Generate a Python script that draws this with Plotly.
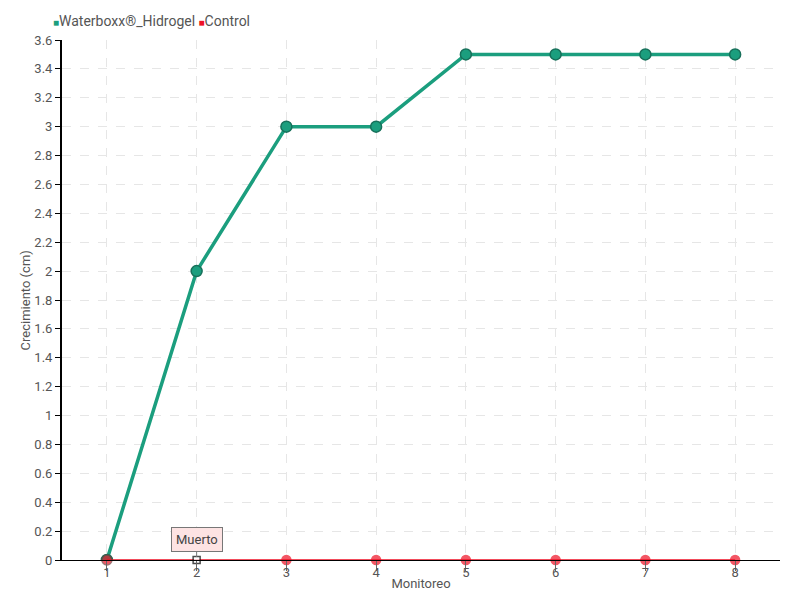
import plotly.graph_objects as go

monitoreo = [1, 2, 3, 4, 5, 6, 7, 8]
waterboxx = [0, 2, 3, 3, 3.5, 3.5, 3.5, 3.5]
control = [0, 0, 0, 0, 0, 0, 0, 0]
series_names = ["Waterboxx®_Hidrogel", "Control"]
y_ticks = [round(i * 0.2, 1) for i in range(19)]
y_labels = [("%g" % v) for v in y_ticks]
FONT = "Roboto, sans-serif"
GREEN = "#1b9e7e"
RED = "#ee1125"

fig = go.Figure()
fig.add_trace(go.Scatter(
    x=monitoreo, y=waterboxx, name=series_names[0], mode="lines+markers",
    line=dict(color=GREEN, width=3.5),
    marker=dict(size=11, color=GREEN, line=dict(color="#17705a", width=1.5)),
))
ctrl_sym = ["circle"] * len(monitoreo)
ctrl_col = [RED] * len(monitoreo)
ctrl_size = [9] * len(monitoreo)
ctrl_line = [RED] * len(monitoreo)
ctrl_sym[1] = "square"; ctrl_col[1] = "white"; ctrl_size[1] = 7; ctrl_line[1] = "black"
ctrl_line[0] = "#7a3a3a"; ctrl_size[0] = 10
fig.add_trace(go.Scatter(
    x=monitoreo, y=control, name=series_names[1], mode="lines+markers",
    line=dict(color=RED, width=1.5),
    marker=dict(size=ctrl_size, color=ctrl_col, symbol=ctrl_sym,
                line=dict(color=ctrl_line, width=1.5)),
    cliponaxis=False,
))

legend_text = (
    f"<span style='color:{GREEN};font-size:10px'>■</span>{series_names[0]} "
    f"<span style='color:{RED};font-size:10px'>■</span>{series_names[1]}"
)
fig.add_annotation(xref="paper", yref="paper", x=-0.015, y=1.0, yshift=19,
                   xanchor="left", yanchor="middle", showarrow=False,
                   text=legend_text, font=dict(family=FONT, size=14, color="#555"))

# y-axis title placed close to the tick labels
fig.add_annotation(xref="paper", yref="paper", x=-0.051, y=0.5,
                   xanchor="center", yanchor="middle", showarrow=False, textangle=-90,
                   text="Crecimiento (cm)", font=dict(family=FONT, size=13, color="#555"))

fig.add_annotation(
    x=monitoreo[1], y=control[1], text="Muerto", showarrow=True, arrowhead=0,
    arrowcolor="#777", arrowwidth=1, ax=0, ay=-21, standoff=3,
    bgcolor="#fde3e3", bordercolor="#777", borderwidth=1, borderpad=4,
    font=dict(family=FONT, size=13, color="#444"),
)
fig.update_layout(
    width=800, height=600, paper_bgcolor="white", plot_bgcolor="white",
    margin=dict(l=54, r=28, t=32, b=48, autoexpand=False),
    font=dict(family=FONT, size=13, color="#555"),
    showlegend=False,
    xaxis=dict(
        range=[0.5, 8.5], tickmode="array", tickvals=monitoreo,
        ticktext=[str(v) for v in monitoreo],
        showgrid=True, gridcolor="#e6e6e6", griddash="dash", gridwidth=1,
        showline=True, linecolor="black", linewidth=1,
        ticks="outside", ticklen=10, tickcolor="#666", ticklabelstandoff=-10,
        title=dict(text="Monitoreo", standoff=0, font=dict(size=13, color="#555")),
        zeroline=False,
    ),
    yaxis=dict(
        range=[0, 3.6], tickmode="array", tickvals=y_ticks, ticktext=y_labels,
        showgrid=True, gridcolor="#e6e6e6", griddash="dash", gridwidth=1,
        showline=True, linecolor="black", linewidth=2,
        ticks="outside", ticklen=5, tickcolor="black",
        zeroline=False,
    ),
)
fig.write_html("out.html")
